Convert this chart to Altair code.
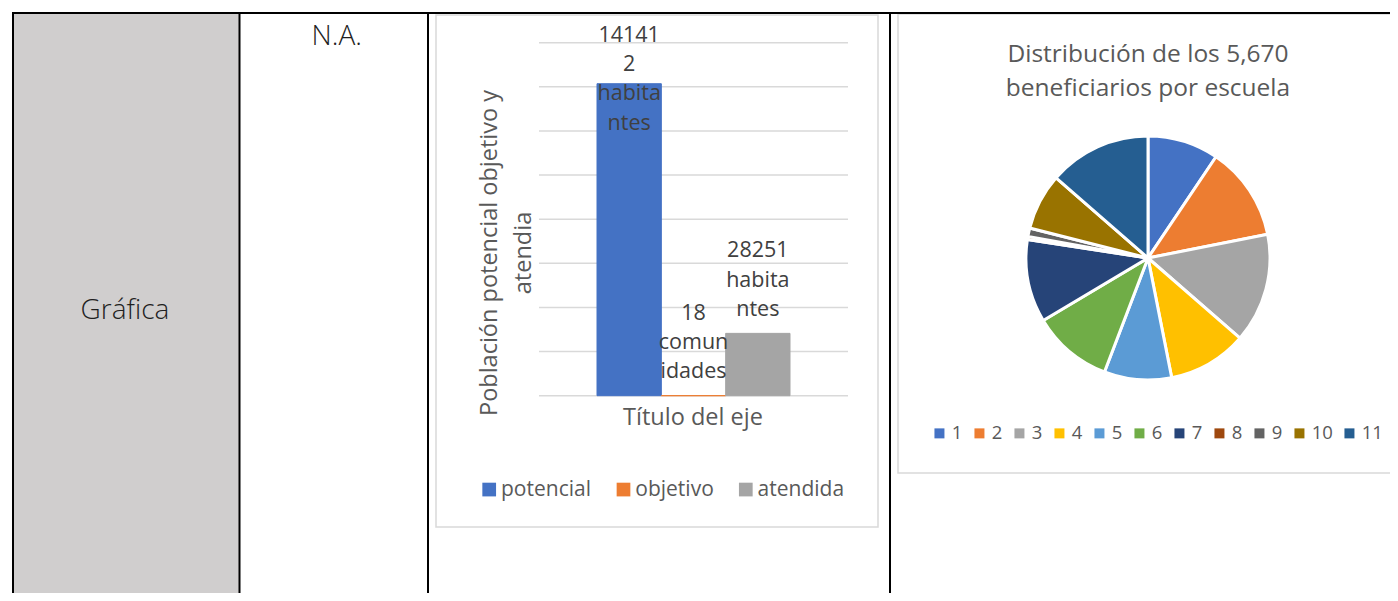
import altair as alt
import pandas as pd

# ---------------- data ----------------
series = ["potencial", "objetivo", "atendida"]
series_values = [141412, 18, 28251]
series_labels = ["14141\n2\nhabita\nntes", "18\ncomun\nidades", "28251\nhabita\nntes"]
series_colors = ["#4472C4", "#ED7D31", "#A5A5A5"]
grid_ticks = [0, 20000, 40000, 60000, 80000, 100000, 120000, 140000, 160000]

schools = ["1", "2", "3", "4", "5", "6", "7", "8", "9", "10", "11"]
school_values = [534, 707, 824, 594, 506, 603, 622, 24, 63, 424, 770]
school_colors = ["#4472C4", "#ED7D31", "#A5A5A5", "#FFC000", "#5B9BD5", "#70AD47",
                 "#264478", "#9E480E", "#636363", "#997300", "#255E91"]

row_label = "Gráfica"
na_label = "N.A."
bar_y_title = "Población potencial objetivo y\natendia"
bar_x_title = "Título del eje"
pie_title = "Distribución de los 5,670\nbeneficiarios por escuela"

FONT = "Open Sans"
W, H = 1382, 585

bars_df = pd.DataFrame({"serie": series, "valor": series_values, "etiqueta": series_labels})
grid_df = pd.DataFrame({"v": grid_ticks})
pie_df = pd.DataFrame({"escuela": schools, "n": school_values, "idx": list(range(len(schools)))})
one = pd.DataFrame({"k": [0]})


def rect(x1, x2, y1, y2, **kw):
    return alt.Chart(one).mark_rect(**kw).encode(
        x=alt.value(x1), x2=alt.value(x2), y=alt.value(y1), y2=alt.value(y2))


def vline(x, y1, y2):
    return alt.Chart(one).mark_rule(color="black", strokeWidth=2).encode(
        x=alt.value(x), y=alt.value(y1), y2=alt.value(y2))


def hline(x1, x2, y):
    return alt.Chart(one).mark_rule(color="black", strokeWidth=2).encode(
        x=alt.value(x1), x2=alt.value(x2), y=alt.value(y))


def label(text, x, y, **kw):
    return alt.Chart(one).mark_text(text=text, font=FONT, lineBreak="\n", **kw).encode(
        x=alt.value(x), y=alt.value(y))


# ---------------- table ----------------
gray_cell = rect(5, 231, 5, H, color="#D0CECE")
bar_box = rect(428, 870, 7, 519, fill="white", stroke="#D9D9D9", strokeWidth=1.5)
pie_box = rect(890, 1389, 6, 465, fill="white", stroke="#D9D9D9", strokeWidth=1.5)
lines = [hline(4, W, 5), vline(5, 5, H), vline(231.5, 5, H), vline(420, 5, H), vline(882, 5, H)]
txt_row = label(row_label, 117, 311, fontSize=28, fontWeight=300, color="#1f1f1f",
                align="center", baseline="alphabetic")
txt_na = label(na_label, 328.7, 37, fontSize=28, fontWeight=300, color="#1f1f1f",
               align="center", baseline="alphabetic")

# ---------------- bar chart ----------------
y_scale = alt.Scale(domain=[0, 160000], range=[387.7, 34.7], nice=False, zero=True)
x_scale = alt.Scale(domain=series, range=[589, 782], paddingInner=0, paddingOuter=0)

grid = alt.Chart(grid_df).mark_rule(color="#D9D9D9", strokeWidth=1.5).encode(
    x=alt.value(531), x2=alt.value(840),
    y=alt.Y("v:Q", scale=y_scale, axis=None))

bars = alt.Chart(bars_df).mark_bar(strokeWidth=1).encode(
    x=alt.X("serie:N", scale=x_scale, axis=None),
    y=alt.Y("valor:Q", scale=y_scale, axis=None),
    color=alt.Color("serie:N", scale=alt.Scale(domain=series, range=series_colors),
                    legend=alt.Legend(title=None, orient="none", direction="horizontal",
                                      legendX=470.7, legendY=470.8, padding=0,
                                      symbolType="square", symbolSize=188, symbolStrokeWidth=0,
                                      labelFont=FONT, labelFontSize=21, labelColor="#595959",
                                      labelOffset=1.3, columnPadding=21.3)),
    stroke=alt.Stroke("serie:N", scale=alt.Scale(domain=series, range=series_colors), legend=None),
)


def bar_label(serie, dy):
    return alt.Chart(bars_df).transform_filter(alt.datum.serie == serie).mark_text(
        font=FONT, fontSize=21.5, color="#404040", lineBreak="\n", lineHeight=29.3,
        baseline="middle", align="center", dy=dy).encode(
        x=alt.X("serie:N", scale=x_scale, axis=None),
        y=alt.Y("valor:Q", scale=y_scale, axis=None),
        text="etiqueta:N")


lbls = [bar_label("potencial", -48), bar_label("objetivo", -82), bar_label("atendida", -82)]

y_title = label(bar_y_title, 482, 245, fontSize=23.5, color="#595959", angle=270,
                lineHeight=34, align="center", baseline="middle")
x_title = label(bar_x_title, 685, 410, fontSize=23.5, color="#595959",
                align="center", baseline="middle")

# ---------------- pie chart ----------------
pie = alt.Chart(pie_df).mark_arc(radius=122, stroke="white", strokeWidth=3).encode(
    theta=alt.Theta("n:Q", stack=True),
    color=alt.Color("escuela:N", scale=alt.Scale(domain=schools, range=school_colors),
                    legend=alt.Legend(title=None, orient="none", direction="horizontal",
                                      legendX=922.2, legendY=416, padding=0,
                                      symbolType="square", symbolSize=100, symbolStrokeWidth=0,
                                      labelFont=FONT, labelFontSize=18.5, labelColor="#595959",
                                      labelOffset=3, columnPadding=7)),
    order=alt.Order("idx:Q"),
    x=alt.value(1140), y=alt.value(250),
)
pie_t = label(pie_title, 1140, 46.5, fontSize=24.5, color="#595959", lineHeight=34,
              align="center", baseline="middle")

chart = alt.layer(
    gray_cell, bar_box, pie_box, *lines, txt_row, txt_na,
    grid, bars, *lbls, y_title, x_title,
    pie, pie_t,
).resolve_scale(color="independent", stroke="independent").properties(
    width=W, height=H, padding=0, autosize=alt.AutoSizeParams(type="none"),
    background="white",
).configure_view(stroke=None)

chart.save("out.html", embed_options={"renderer": "svg", "actions": False})
